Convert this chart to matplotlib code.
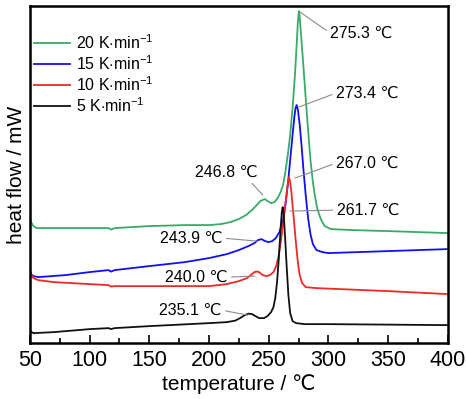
import matplotlib
matplotlib.use("Agg")
import matplotlib.pyplot as plt

plt.rcParams['font.family'] = ['Liberation Sans', 'DejaVu Sans']
plt.rcParams['mathtext.fontset'] = 'custom'
plt.rcParams['mathtext.rm'] = 'Liberation Sans'
plt.rcParams['mathtext.it'] = 'Liberation Sans'

# heat flow curves, arbitrary offset units
t_20 = [50, 51, 53, 56, 70, 100, 116, 118, 121, 150, 180, 200, 210, 218, 225, 231, 236, 240, 243,
        246.8, 249, 252, 255, 258, 260, 262, 264, 266, 268, 270, 272, 273.5, 274.5, 275.3, 276, 277,
        279, 281, 283, 285, 287, 289, 291, 294, 297, 302, 320, 350, 400]
hf_20 = [125, 121, 117, 115, 115, 115, 115, 113.5, 115, 117, 118, 118, 119, 121, 124, 128, 133, 138, 142,
         144, 142, 140, 141, 146, 151, 158, 171, 188, 208, 235, 268, 300, 322, 332, 326, 310,
         278, 245, 213, 183, 161, 145, 133, 123, 117, 114, 113, 112, 110]

t_15 = [50, 51, 53, 57, 80, 100, 116, 118, 121, 150, 180, 200, 215, 225, 233, 238, 241, 243.9, 247,
        250, 253, 256, 259, 262, 264, 266, 268, 270, 271.5, 272.5, 273.4, 274.5, 276, 277.5, 279,
        281, 283, 285, 287, 290, 295, 300, 350, 400]
hf_15 = [72, 69, 67, 66, 68, 71, 73, 71.5, 73, 77, 81, 85, 89, 93, 97, 100, 103, 104, 102,
         101, 102, 105, 111, 123, 138, 158, 183, 208, 226, 235, 238, 233, 218, 198, 175,
         148, 125, 109, 99, 93, 91, 90, 92, 94]

t_10 = [50, 51, 53, 57, 70, 100, 116, 118, 121, 150, 200, 215, 225, 232, 236, 238, 240, 242, 245,
        248, 251, 254, 256, 258, 260, 262, 264, 265.5, 267, 268, 269, 270, 271.5, 273, 274.5, 276,
        278, 281, 290, 350, 400]
hf_10 = [75, 69, 65, 63, 61, 59, 58, 56.5, 57, 57, 57, 59, 62, 65, 69, 71, 71.5, 71, 68,
         67, 68, 71, 76, 85, 100, 118, 139, 155, 166, 161, 151, 138, 118, 98, 80, 68,
         60, 56, 55, 52, 49]

t_5 = [50, 53, 70, 100, 116, 118, 121, 150, 200, 215, 222, 226, 230, 233, 236, 239, 242, 246, 249, 252,
       254, 255.5, 257, 258.5, 260, 261, 261.7, 262.5, 263.5, 265, 266.5, 268, 270, 273, 280, 300, 400]
hf_5 = [12, 10, 11, 14, 15, 14, 15, 17, 20, 21, 22.5, 25, 28, 29.5, 29, 27, 25, 25, 27, 31,
        36, 45, 61, 85, 115, 131, 136, 130, 111, 78, 48, 30, 22, 20, 19, 19, 18]

labels = [r'20 K$\cdot$min$^{-1}$', r'15 K$\cdot$min$^{-1}$', r'10 K$\cdot$min$^{-1}$', r'5 K$\cdot$min$^{-1}$']
colors = ['#3aaa6a', '#1010ee', '#f02828', '#111111']

# peak labels: text, point on curve, text anchor, side of text
peak_text = ['275.3 ℃', '273.4 ℃', '267.0 ℃', '261.7 ℃', '246.8 ℃', '243.9 ℃', '240.0 ℃', '235.1 ℃']
peak_xy = [(276.1, 331), (275.3, 236), (272.0, 165), (267.8, 132),
           (245.1, 148), (240.1, 102), (238.4, 67), (232.5, 28)]
text_xy = [(301.5, 310), (306.5, 250), (306.5, 180), (307.0, 133),
           (241.0, 171), (211.0, 105), (215.5, 66), (210.5, 33)]
text_side = ['left', 'left', 'left', 'left', 'right', 'right', 'right', 'right']


fig = plt.figure(figsize=(4.66, 3.99), dpi=100)
ax = fig.add_axes([0.064, 0.140, 0.897, 0.845])

series = [(t_20, hf_20), (t_15, hf_15), (t_10, hf_10), (t_5, hf_5)]
for (t, hf), lab, c in zip(series, labels, colors):
    ax.plot(t, hf, color=c, lw=1.3, label=lab)

for txt, xy, xyt, side in zip(peak_text, peak_xy, text_xy, text_side):
    rel = (0, 0.5) if side == 'left' else (1, 0.5)
    if txt == '246.8 ℃':
        rel = (0.85, 0.0)
    ax.annotate(txt, xy=xy, xytext=xyt, ha=side, va='center', fontsize=11.5,
                arrowprops=dict(arrowstyle='-', color='#8c8c8c', lw=0.8, relpos=rel,
                                shrinkA=1, shrinkB=0))

ax.set_xlim(50, 400)
ax.set_ylim(0, 337)
ax.set_xticks(range(50, 401, 50))
ax.set_xticks(range(75, 400, 50), minor=True)
ax.set_yticks([])
ax.tick_params(axis='x', which='major', direction='in', length=6, width=1.2, labelsize=15.5, pad=5)
ax.tick_params(axis='x', which='minor', direction='in', length=3.5, width=1.2)
for s in ax.spines.values():
    s.set_linewidth(1.8)

ax.set_xlabel('temperature / ℃', fontsize=15, labelpad=2)
ax.set_ylabel('heat flow / mW', fontsize=15, labelpad=3)

ax.legend(loc='upper left', bbox_to_anchor=(-0.014, 0.948), frameon=False, fontsize=11.5,
          handlelength=2.3, handletextpad=0.35, labelspacing=0.15, borderaxespad=0.2)

fig.savefig('out.png', dpi=100)
